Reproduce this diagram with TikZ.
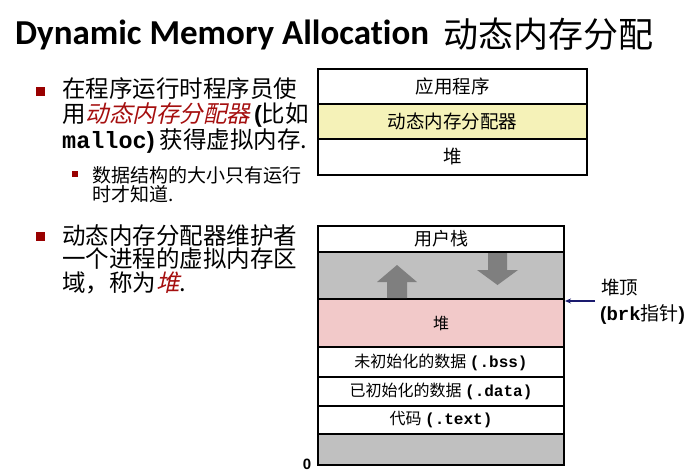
\documentclass[tikz,border=0pt]{standalone}
\usepackage{fontspec}
\setmainfont{Noto Sans CJK SC}
\setmonofont{Liberation Mono}
\newfontfamily\titlefont{Carlito}[Ligatures=CommonOff]
\newfontfamily\cjkslant{Noto Sans CJK SC}[FakeSlant=0.22]
\newfontfamily\arialfont{Liberation Sans}
\usetikzlibrary{arrows.meta}

\definecolor{bulletred}{HTML}{990000}
\definecolor{emred}{HTML}{A50F0F}
\definecolor{alloyellow}{HTML}{F5F2B8}
\definecolor{heappink}{HTML}{F2C9C9}
\definecolor{gapgray}{HTML}{C0C0C0}
\definecolor{growgray}{HTML}{7F7F7F}
\definecolor{ptrblue}{HTML}{1A1A6E}

\newcommand{\bparen}[1]{{\arialfont\bfseries #1}}
\newcommand{\code}[1]{{\ttfamily\bfseries #1}}

\tikzset{
  body/.style={anchor=base west, inner sep=0pt, font=\fontsize{23.5}{25}\selectfont},
  subbody/.style={anchor=base west, inner sep=0pt, font=\fontsize{19}{20}\selectfont},
  bulletsq/.style={fill=bulletred, inner sep=0pt, minimum size=#1},
  layerrow/.style={draw=black, line width=1.5pt, inner sep=0pt, align=center},
  toprow/.style={layerrow, minimum width=269pt, font=\fontsize{18.5}{20}\selectfont},
  memrow/.style={layerrow, minimum width=246pt, font=\fontsize{16}{18}\selectfont},
  ptr/.style={draw=ptrblue, line width=1.2pt, -{Stealth[length=6pt,width=5pt]}},
}

\begin{document}
\begin{tikzpicture}[x=1pt, y=-1pt]
\useasboundingbox (0,0) rectangle (694,472);

% heading
\node[anchor=base west, inner sep=0pt, font=\titlefont\bfseries\fontsize{35}{40}\selectfont]
  (title) at (15,44) {Dynamic Memory Allocation};
\node[anchor=base west, inner sep=0pt, font=\fontsize{35}{40}\selectfont]
  (titlecn) at (443,47) {动态内存分配};

% first bullet
\node[bulletsq=9pt] (m1) at (40.5,91) {};
\node[body] (b1a) at (62,97) {在程序运行时程序员使};
\node[body] (b1b) at (62,122) {用{\cjkslant\color{emred}动态内存分配器}\,\bparen{(}比如};
\node[body] (b1c) at (62,148) {\code{malloc}\bparen{)} 获得虚拟内存.};

% sub bullet
\node[bulletsq=6pt] (m2) at (75,173.5) {};
\node[subbody] (s1a) at (92,182) {数据结构的大小只有运行};
\node[subbody] (s1b) at (92,201) {时才知道.};

% second bullet
\node[bulletsq=9pt] (m3) at (40.5,236) {};
\node[body] (b2a) at (62,244) {动态内存分配器维护者};
\node[body] (b2b) at (62,267) {一个进程的虚拟内存区};
\node[body] (b2c) at (62,291) {域，称为{\cjkslant\color{emred}堆}.};

% software layers
\node[toprow, minimum height=35pt] (app) at (452.5,86.5) {应用程序};
\node[toprow, minimum height=35pt, fill=alloyellow] (alloc) at (452.5,121.5) {动态内存分配器};
\node[toprow, minimum height=36pt] (heapbox) at (452.5,157) {堆};

% process address space
\node[memrow, minimum height=26pt, font=\fontsize{18}{18}\selectfont] (ustack) at (441,239) {用户栈};
\node[memrow, minimum height=47pt, fill=gapgray] (gap) at (441,275.5) {};
\node[memrow, minimum height=48pt, fill=heappink] (heap) at (441,323) {堆};
\node[memrow, minimum height=30pt] (bss) at (441,362) {未初始化的数据 \code{(.bss)}};
\node[memrow, minimum height=29pt] (data) at (441,391.5) {已初始化的数据 \code{(.data)}};
\node[memrow, minimum height=28pt] (text) at (441,420) {代码 \code{(.text)}};
\node[memrow, minimum height=31pt, fill=gapgray] (low) at (441,449.5) {};

% growth directions of heap and stack
\fill[growgray] (387,298) -- (387,282) -- (377,282) -- (397,265) -- (417,282)
  -- (407,282) -- (407,298) -- cycle;
\fill[growgray] (488,253) -- (488,270) -- (477,270) -- (497.5,285) -- (518,270)
  -- (507,270) -- (507,253) -- cycle;

% address zero
\node[anchor=base, inner sep=0pt, font=\arialfont\bfseries\fontsize{15}{16}\selectfont]
  (zero) at (307,469) {0};

% break pointer
\node[anchor=base west, inner sep=0pt, font=\fontsize{18.5}{20}\selectfont]
  (brktop) at (601,294) {堆顶};
\node[anchor=base west, inner sep=0pt, font=\fontsize{19}{20}\selectfont]
  (brkname) at (600,320) {\bparen{(}\code{brk}指针\bparen{)}};
\coordinate (brktail) at (595,301);
\coordinate (brktip) at (565,301);
\draw[ptr] (brktail) -- (brktip);

\end{tikzpicture}
\end{document}
